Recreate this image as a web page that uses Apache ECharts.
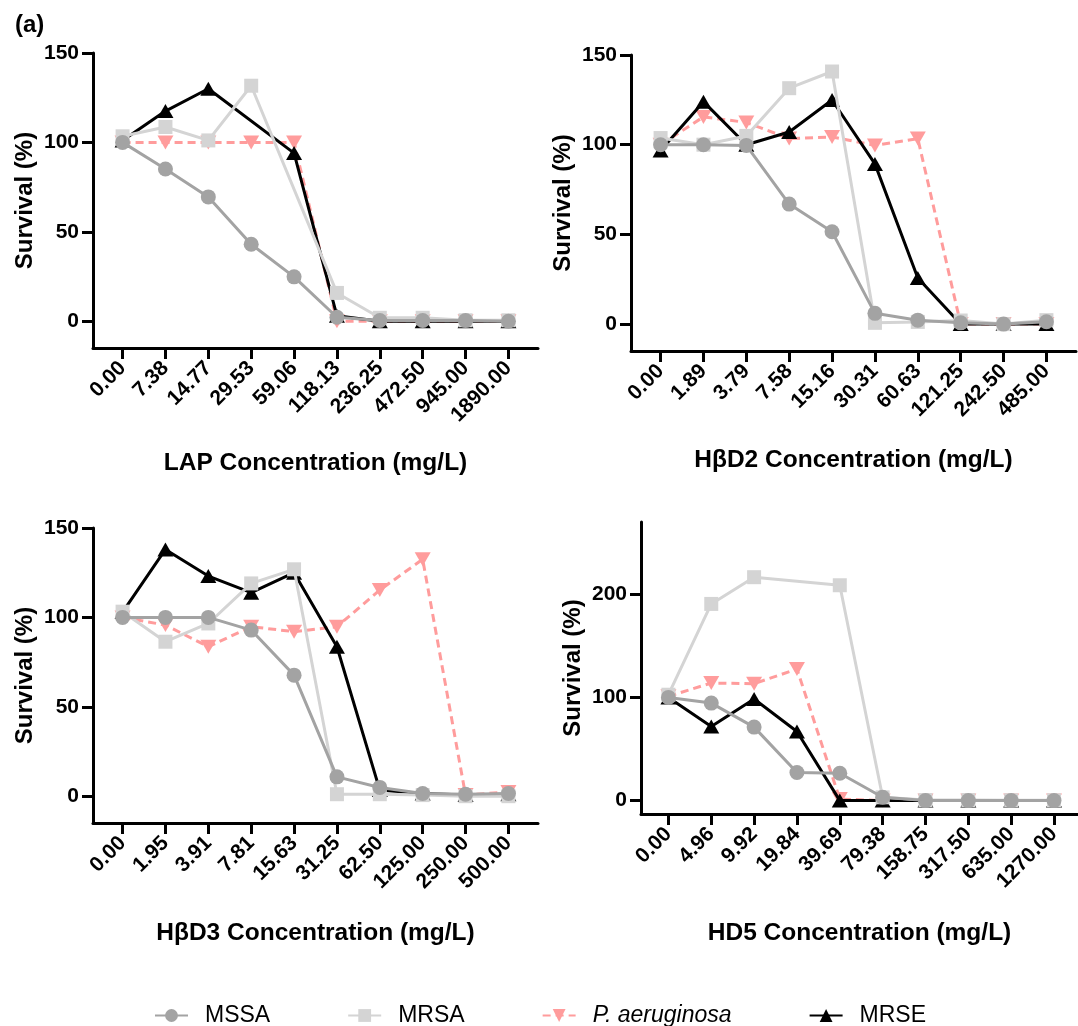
<!DOCTYPE html>
<html>
<head>
<meta charset="utf-8">
<script src="https://cdn.jsdelivr.net/npm/echarts@6/dist/echarts.min.js"></script>
<style>html,body{margin:0;padding:0;background:#fff}#c{width:1078px;height:1026px}</style>
</head>
<body>
<div id="c"></div>
<script>
// ---- Data ----
const lapCats = ['0.00','7.38','14.77','29.53','59.06','118.13','236.25','472.50','945.00','1890.00'];
const lapMSSA = [100, 85.1, 69.5, 43.0, 24.8, 2.2, 0.4, 0.4, 0.4, 0];
const lapMRSA = [103.4, 108.6, 101.1, 131.7, null, 15.8, 1.9, 1.9, 0.5, 0.5];
const lapPA   = [100, 100, 100, 100, 100, 0, 0, 0, 0, 0];
const lapMRSE = [101, 117.5, 130, null, 94, 3, 0, 0, 0, 0];

const hbd2Cats = ['0.00','1.89','3.79','7.58','15.16','30.31','60.63','121.25','242.50','485.00'];
const hbd2MSSA = [100, 100, 99.6, 66.9, 51.5, 6.0, 2.2, 0.7, 0, 1.3];
const hbd2MRSA = [103.7, 100, 104.9, 131.5, 140.8, 0.7, 1.2, 2.0, 0, 2.2];
const hbd2PA   = [100, 115.5, 112.4, 103.4, 104.3, 99.6, 103.4, 0, 0, 0];
const hbd2MRSE = [96.8, 124, 100, 107.1, 124.9, 89.3, 25.7, 0, 0, 0];

const hbd3Cats = ['0.00','1.95','3.91','7.81','15.63','31.25','62.50','125.00','250.00','500.00'];
const hbd3MSSA = [100, 100, 100, 92.9, 67.7, 10.8, 4.9, 1.5, 1.1, 1.5];
const hbd3MRSA = [103.2, 86.4, 96.6, 119, 126.9, 1.1, 1.1, 0.6, 0, 0];
const hbd3PA   = [100, 95.7, 83.6, 94.8, 92, 94.8, 115.3, 132.5, 0.6, 2.4];
const hbd3MRSE = [103, 138, 123.1, 113.8, 125, 83.6, 3.4, 1.5, 0.6, 1.1];

const hd5Cats = ['0.00','4.96','9.92','19.84','39.69','79.38','158.75','317.50','635.00','1270.00'];
const hd5MSSA = [100, 94.5, 71.2, 27.2, 26.5, 3.2, 0, 0, 0, 0];
const hd5MRSA = [102.6, 190.6, 216.5, null, 208.7, 3.2, 0.5, 0.5, 0.3, 0.3];
const hd5PA   = [101, 113.9, 113.3, 127.5, 1.5, 0, 0, 0, 0, 0];
const hd5MRSE = [100, 71.8, 98.4, 67, 0, 0, 0, 0, 0, 0];

const yTicks1 = [0, 50, 100, 150];
const yTicks4 = [0, 100, 200];

// ---- Styles ----
const FONT = "'Liberation Sans', Arial, Helvetica, sans-serif";
const colMSSA = '#a3a3a3', colMRSA = '#d4d4d4', colPA = '#ff9c9c', colMRSE = '#000000';
const triDown = 'path://M0,0L2,0L1,1.732Z';

const panels = [
  {cats: lapCats, d: [lapMSSA, lapMRSA, lapPA, lapMRSE], name: 'LAP Concentration (mg/L)',
   grid: {left: 93, top: 53, width: 445, height: 295}, x: [-0.69, 9.69], y: [-15, 150], yt: yTicks1, nameGap: 103},
  {cats: hbd2Cats, d: [hbd2MSSA, hbd2MRSA, hbd2PA, hbd2MRSE], name: 'HβD2 Concentration (mg/L)',
   grid: {left: 631, top: 55, width: 445, height: 296}, x: [-0.69, 9.69], y: [-15, 150], yt: yTicks1, nameGap: 97},
  {cats: hbd3Cats, d: [hbd3MSSA, hbd3MRSA, hbd3PA, hbd3MRSE], name: 'HβD3 Concentration (mg/L)',
   grid: {left: 93, top: 528, width: 445, height: 295}, x: [-0.69, 9.69], y: [-15, 150], yt: yTicks1, nameGap: 98},
  {cats: hd5Cats, d: [hd5MSSA, hd5MRSA, hd5PA, hd5MRSE], name: 'HD5 Concentration (mg/L)',
   grid: {left: 641, top: 522, width: 437, height: 292}, x: [-0.64, 9.56], y: [-13, 270], yt: yTicks4, nameGap: 107}
];

const idx = [0,1,2,3,4,5,6,7,8,9];
const axisLine = {show: true, onZero: false, lineStyle: {color: '#000', width: 3}};
const axisTick = {show: true, length: 11, lineStyle: {color: '#000', width: 3}};

const grids = [], xAxes = [], yAxes = [], series = [];
panels.forEach((p, i) => {
  grids.push(Object.assign({containLabel: false}, p.grid));
  xAxes.push({
    type: 'value', gridIndex: i, min: p.x[0], max: p.x[1],
    name: p.name, nameLocation: 'middle', nameGap: p.nameGap,
    nameTextStyle: {fontFamily: FONT, fontSize: 24.5, fontWeight: 'bold', color: '#000'},
    axisLine: axisLine, splitLine: {show: false},
    axisTick: Object.assign({customValues: idx}, axisTick),
    axisLabel: {customValues: idx, rotate: 45, margin: 17, fontFamily: FONT, fontSize: 21, fontWeight: 'bold', color: '#000',
      formatter: (v) => p.cats[Math.round(v)]}
  });
  yAxes.push({
    type: 'value', gridIndex: i, min: p.y[0], max: p.y[1],
    name: 'Survival (%)', nameLocation: 'middle', nameGap: 56,
    nameTextStyle: {fontFamily: FONT, fontSize: 24, fontWeight: 'bold', color: '#000'},
    axisLine: axisLine, splitLine: {show: false},
    axisTick: Object.assign({customValues: p.yt}, axisTick),
    axisLabel: {customValues: p.yt, margin: 14, fontFamily: FONT, fontSize: 21, fontWeight: 'bold', color: '#000'}
  });
  const toPts = (arr) => arr.map((v, k) => [k, v == null ? '-' : v]);
  const [mssa, mrsa, pa, mrse] = p.d;
  // draw order: P. aeruginosa, MRSE, MRSA, MSSA (last on top)
  series.push({name: 'P. aeruginosa', type: 'line', xAxisIndex: i, yAxisIndex: i, data: toPts(pa), connectNulls: true,
    symbol: triDown, symbolSize: [16, 14], itemStyle: {color: colPA},
    lineStyle: {color: colPA, width: 3, type: [8, 5]}, z: 2});
  series.push({name: 'MRSE', type: 'line', xAxisIndex: i, yAxisIndex: i, data: toPts(mrse), connectNulls: true,
    symbol: 'triangle', symbolSize: [16, 14], itemStyle: {color: colMRSE},
    lineStyle: {color: colMRSE, width: 3}, z: 3});
  series.push({name: 'MRSA', type: 'line', xAxisIndex: i, yAxisIndex: i, data: toPts(mrsa), connectNulls: true,
    symbol: 'rect', symbolSize: 14, itemStyle: {color: colMRSA},
    lineStyle: {color: colMRSA, width: 3}, z: 4});
  series.push({name: 'MSSA', type: 'line', xAxisIndex: i, yAxisIndex: i, data: toPts(mssa), connectNulls: true,
    symbol: 'circle', symbolSize: 15, itemStyle: {color: colMSSA},
    lineStyle: {color: colMSSA, width: 3}, z: 5});
});

const chart = echarts.init(document.getElementById('c'), null, {renderer: 'canvas'});
chart.setOption({
  animation: false,
  backgroundColor: '#fff',
  title: {text: '(a)', left: 10, top: 8, textStyle: {fontFamily: FONT, fontSize: 24, fontWeight: 'bold', color: '#000'}},
  legend: {
    left: 149, top: 999, itemWidth: 33, itemHeight: 16, itemGap: 77,
    textStyle: {fontFamily: FONT, fontSize: 23, color: '#000', padding: [0, 0, 0, 12]},
    data: ['MSSA', 'MRSA', {name: 'P. aeruginosa', textStyle: {fontStyle: 'italic'}}, 'MRSE']
  },
  grid: grids, xAxis: xAxes, yAxis: yAxes, series: series
});
</script>
</body>
</html>
